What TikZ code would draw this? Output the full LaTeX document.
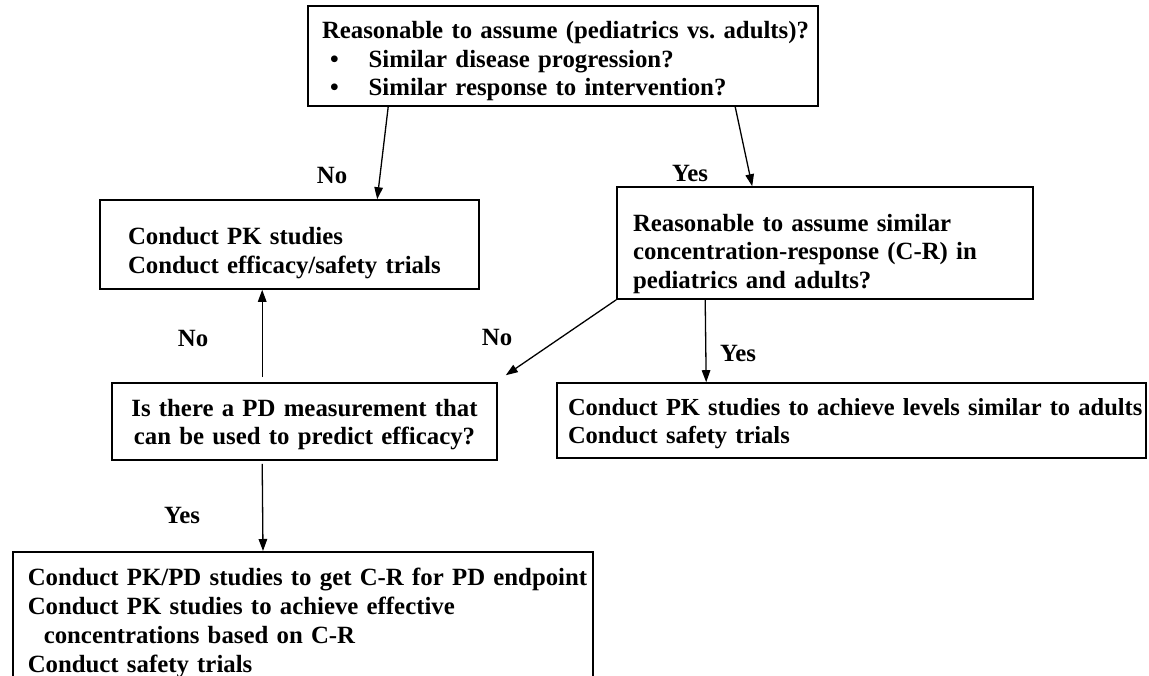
\documentclass[tikz,border=0pt]{standalone}
\usepackage{fontspec}
\setmainfont{Liberation Serif}
\usetikzlibrary{arrows.meta,calc}
\newcommand{\tgap}[1]{\rule{0pt}{#1pt}}
\begin{document}
\begin{tikzpicture}[x=1pt,y=1pt,
  every node/.style={font=\bfseries\fontsize{24.8}{28.5}\selectfont},
  box/.style={draw, line width=1.6pt, rectangle, inner ysep=0pt},
  lbl/.style={inner sep=0pt},
  arr/.style={line width=1.3pt, -{Triangle[length=12pt,width=8.5pt]}}]
\useasboundingbox (0,0) rectangle (1149,-675);
\clip (0,0) rectangle (1149,-675);
\fill[white] (0,0) rectangle (1149,-675);

\node[box, minimum width=510pt, minimum height=100pt, text width=482pt, inner xsep=14pt, align=left] (top) at (563,-56)
  {\tgap{28}\mbox{Reasonable to assume (pediatrics vs.\ adults)?}\\
   \hspace*{8pt}•\hspace{30pt}Similar disease progression?\\
   \hspace*{8pt}•\hspace{30pt}Similar response to intervention?};

\node[box, minimum width=379pt, minimum height=89pt, text width=323pt, inner xsep=28pt, align=left] (box2) at (289.5,-244.5)
  {\tgap{34}Conduct PK studies\\Conduct efficacy/safety trials};

\node[box, minimum width=416pt, minimum height=112pt, text width=384pt, inner xsep=16pt, align=left] (box3) at (825,-243)
  {\tgap{39}Reasonable to assume similar\\concentration-response (C-R) in\\pediatrics and adults?};

\node[box, minimum width=385pt, minimum height=77pt, text width=361pt, inner xsep=12pt, align=center] (pd) at (304.5,-421.5)
  {\tgap{23}Is there a PD measurement that\\can be used to predict efficacy?};

\node[box, minimum width=589pt, minimum height=75pt, text width=567pt, inner xsep=11pt, align=left,
      font=\bfseries\fontsize{24.5}{28.5}\selectfont] (box4) at (851.5,-420.5)
  {\tgap{23}\mbox{Conduct PK studies to achieve levels similar to adults}\\Conduct safety trials};

\node[box, anchor=north west, minimum width=580pt, text width=550pt, inner xsep=15pt, inner ysep=16pt, align=left,
      font=\bfseries\fontsize{24.8}{29}\selectfont] (box5) at (12,-551)
  {\mbox{Conduct PK/PD studies to get C-R for PD endpoint}\\
   Conduct PK studies to achieve effective\\
   \hspace*{16pt}concentrations based on C-R\\
   Conduct safety trials};

\draw[arr] ($(top.south west)+(81,0)$) -- ($(box2.north west)+(278,0)$);
\draw[arr] ($(top.south west)+(428,0)$) -- ($(box3.north west)+(136,0)$);
\draw[arr] (box3.south west) -- ($(pd.north east)+(8,7)$);
\draw[arr] ($(box3.south west)+(89,0)$) -- ($(box4.north west)+(150,0)$);
\draw[arr] ($(pd.north west)+(151,5)$) -- ($(box2.south west)+(163,0)$);
\draw[arr] ($(pd.south west)+(151,-3)$) -- ($(box5.north west)+(251,0)$);

\node[lbl] (no1) at (332,-175) {No};
\node[lbl] (yes1) at (690,-173) {Yes};
\node[lbl] (no2) at (193,-338) {No};
\node[lbl] (no3) at (497,-337) {No};
\node[lbl] (yes2) at (738,-353) {Yes};
\node[lbl] (yes3) at (182,-515) {Yes};
\end{tikzpicture}
\end{document}
